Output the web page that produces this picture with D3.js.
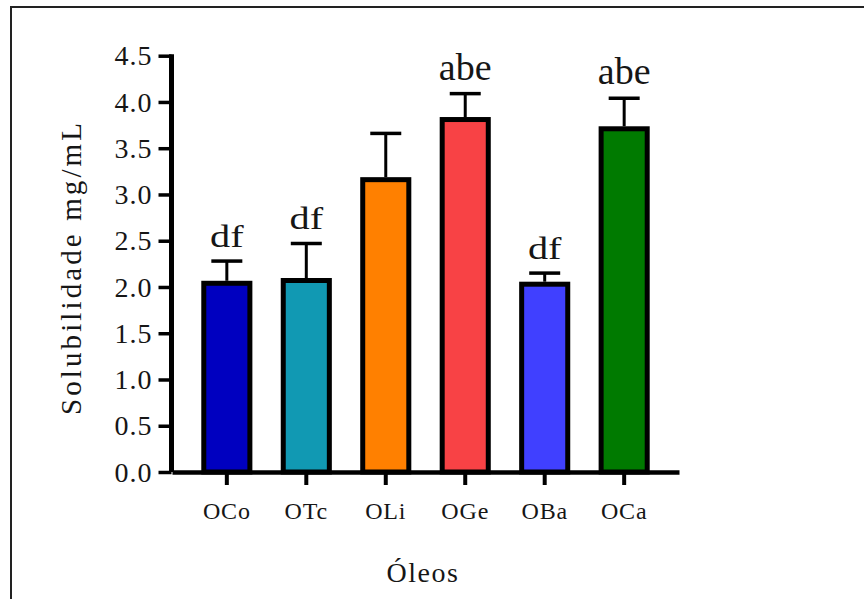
<!DOCTYPE html>
<html>
<head>
<meta charset="utf-8">
<script src="https://cdn.jsdelivr.net/npm/d3@7"></script>
<style>
  body { margin: 0; background: #fff; }
  svg text { font-family: "Liberation Serif", "Times New Roman", serif; fill: #161616; }
</style>
</head>
<body>
<div class="chart"></div>
<script>
// Data
var categories = ["OCo", "OTc", "OLi", "OGe", "OBa", "OCa"];
var means = [2.04, 2.07, 3.16, 3.81, 2.03, 3.71];
var sds = [0.24, 0.40, 0.50, 0.28, 0.12, 0.33];
var letters = ["df", "df", "", "abe", "df", "abe"];
var yTicks = [0, 0.5, 1.0, 1.5, 2.0, 2.5, 3.0, 3.5, 4.0, 4.5];
var colors = ["#0000c0", "#1199b3", "#ff8000", "#f84245", "#4040ff", "#007a00"];

// Configuration
var width = 864;
var height = 599;
var serif = "'Liberation Serif', 'Times New Roman', serif";

var svg = d3.select(".chart").append("svg")
    .attr("width", width)
    .attr("height", height);

// outer frame (only top and left edges show)
svg.append("path")
    .attr("d", "M11,599 V7 H864")
    .attr("fill", "none")
    .attr("stroke", "#222")
    .attr("stroke-width", 2);

// Scales
var x = d3.scaleBand()
    .domain(categories)
    .range([172, 679])
    .paddingInner(0.42)
    .paddingOuter(0.4);

var y = d3.scaleLinear()
    .domain([0, 4.5])
    .range([472, 55.7]);

// Bars
var g = svg.selectAll("g.bar")
    .data(categories)
    .enter().append("g")
    .attr("class", "bar");

g.append("rect")
    .attr("x", function(d) { return x(d); })
    .attr("y", function(d, i) { return y(means[i]); })
    .attr("width", x.bandwidth())
    .attr("height", function(d, i) { return y(0) - y(means[i]); })
    .attr("fill", function(d, i) { return colors[i]; })
    .attr("stroke", "#000")
    .attr("stroke-width", 5);

// error bars (upper only)
g.append("line")
    .attr("x1", function(d) { return x(d) + x.bandwidth() / 2; })
    .attr("x2", function(d) { return x(d) + x.bandwidth() / 2; })
    .attr("y1", function(d, i) { return y(means[i]) - 2.5; })
    .attr("y2", function(d, i) { return y(means[i] + sds[i]); })
    .attr("stroke", "#000")
    .attr("stroke-width", 3);

g.append("line")
    .attr("x1", function(d) { return x(d) + x.bandwidth() / 2 - 15.5; })
    .attr("x2", function(d) { return x(d) + x.bandwidth() / 2 + 15.5; })
    .attr("y1", function(d, i) { return y(means[i] + sds[i]); })
    .attr("y2", function(d, i) { return y(means[i] + sds[i]); })
    .attr("stroke", "#000")
    .attr("stroke-width", 3.5);

// significance letters
g.append("text")
    .attr("text-anchor", "middle")
    .attr("transform", function(d, i) {
        var cx = x(d) + x.bandwidth() / 2;
        var cy = y(means[i] + sds[i]) - 14;
        var sx = letters[i] === "df" ? 1.3 : 1;
        return "translate(" + cx + "," + cy + ") scale(" + sx + ",1)";
    })
    .style("font-family", serif)
    .style("font-size", function(d, i) { return letters[i] === "df" ? "31px" : "38px"; })
    .text(function(d, i) { return letters[i]; });

// Y axis
var yAxis = svg.append("g")
    .attr("transform", "translate(171.5,0)")
    .call(d3.axisLeft(y).tickValues(yTicks).tickFormat(d3.format(".1f"))
        .tickSizeInner(13).tickSizeOuter(0).tickPadding(6));

yAxis.attr("font-family", null);
yAxis.select(".domain").attr("stroke", "#000").attr("stroke-width", 5)
    .attr("d", "M0," + y(0) + "V" + (y(4.5) - 1.5));
yAxis.selectAll(".tick line").attr("stroke", "#000").attr("stroke-width", 3.5);
yAxis.selectAll(".tick text")
    .attr("fill", "#1a1a1a")
    .attr("dy", "0.33em")
    .style("font-size", "28px")
    .style("letter-spacing", "1px")
    .style("font-family", serif);

// X axis
var xAxis = svg.append("g")
    .attr("transform", "translate(0,472)")
    .call(d3.axisBottom(x).tickSizeInner(13).tickSizeOuter(0));

xAxis.attr("font-family", null);
xAxis.select(".domain").attr("stroke", "#000").attr("stroke-width", 4.5);
xAxis.selectAll(".tick line").attr("stroke", "#000").attr("stroke-width", 4);
xAxis.selectAll(".tick text")
    .attr("fill", "#111")
    .attr("y", 47)
    .attr("dy", 0)
    .style("font-size", "24px")
    .style("letter-spacing", "0.8px")
    .style("font-family", serif);

// Axis titles
svg.append("text")
    .attr("transform", "translate(81,269) rotate(-90)")
    .attr("text-anchor", "middle")
    .attr("textLength", 292)
    .attr("lengthAdjust", "spacing")
    .style("font-family", serif)
    .style("font-size", "29px")
    .text("Solubilidade mg/mL");

svg.append("text")
    .attr("x", 423)
    .attr("y", 582)
    .attr("text-anchor", "middle")
    .style("font-family", serif)
    .style("font-size", "28px")
    .style("letter-spacing", "1.5px")
    .text("Óleos");
</script>
</body>
</html>
